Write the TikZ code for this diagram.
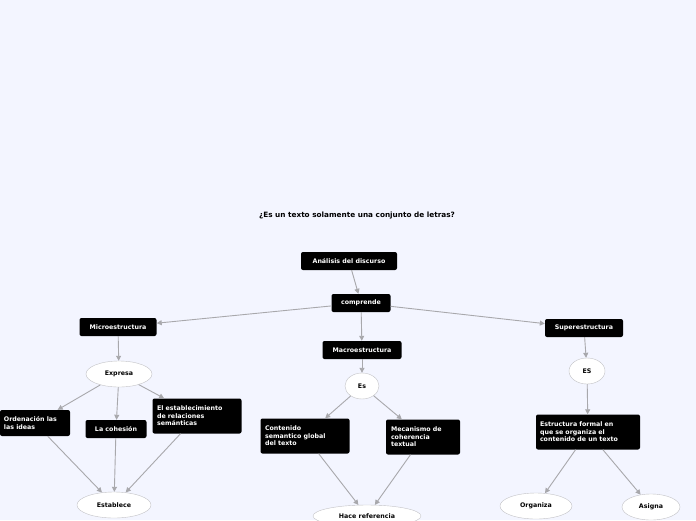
\documentclass[tikz,border=0pt]{standalone}
\usepackage{fontspec}
\setmainfont{DejaVu Sans}
\usetikzlibrary{shapes.geometric,arrows.meta}
\definecolor{bg}{HTML}{F3F5FF}
\definecolor{ln}{HTML}{A8A8AC}
\tikzset{
 bx/.style={fill=black,text=white,rounded corners=2pt,font=\bfseries\fontsize{6.3}{7.5}\selectfont,align=left,inner sep=0pt,minimum height=18pt},
 el/.style={ellipse,draw=ln!70,fill=white,font=\bfseries\fontsize{6.3}{7.5}\selectfont,inner sep=0pt,minimum height=26pt},
 ar/.style={draw=ln,line width=0.9pt,-{Triangle[length=5pt,width=5pt]}}
}
\begin{document}
\begin{tikzpicture}[x=1pt,y=-1pt]
\fill[bg] (0,0) rectangle (696,520);
\useasboundingbox (0,0) rectangle (696,520);
\node[font=\bfseries\fontsize{7.3}{9}\selectfont] (t) at (357,216) {¿Es un texto solamente una conjunto de letras?};
\node[bx,minimum width=96pt] (a) at (349,261) {Análisis del discurso};
\node[bx,minimum width=59pt] (c) at (361,303) {comprende};
\node[bx,minimum width=77pt] (mi) at (118,327) {Microestructura};
\node[bx,minimum width=79pt] (ma) at (362,350) {Macroestructura};
\node[bx,minimum width=78pt] (su) at (584,328) {Superestructura};
\node[el,minimum width=66pt] (ex) at (119,374) {Expresa};
\node[el,minimum width=34pt] (es) at (362,386) {Es};
\node[el,minimum width=36pt] (ES) at (587,371) {ES};
\node[bx,minimum width=70pt,minimum height=26pt,text width=62pt] (o) at (35,423) {Ordenación las\\las ideas};
\node[bx,minimum width=61pt] (lc) at (116,429) {La cohesión};
\node[bx,minimum width=89pt,minimum height=35pt,text width=80pt] (ee) at (197,416) {El establecimiento\\de relaciones\\semánticas};
\node[bx,minimum width=89pt,minimum height=35pt,text width=80pt] (co) at (305,436) {Contenido\\semantico global\\del texto};
\node[bx,minimum width=74pt,minimum height=35pt,text width=64pt] (me) at (423,437) {Mecanismo de\\coherencia\\textual};
\node[bx,minimum width=104pt,minimum height=35pt,text width=96pt] (ef) at (588,432) {Estructura formal en\\que se organiza el\\contenido de un texto};
\node[el,minimum width=74pt] (est) at (114,505) {Establece};
\node[el,minimum width=108pt,minimum height=22pt] (hr) at (367,516) {Hace referencia};
\node[el,minimum width=72pt] (org) at (536,506) {Organiza};
\node[el,minimum width=58pt] (asi) at (651,507) {Asigna};
\draw[ar] (a) -- (c);
\draw[ar] (c) -- (mi);
\draw[ar] (c) -- (ma);
\draw[ar] (c) -- (su);
\draw[ar] (mi) -- (ex);
\draw[ar] (ex) -- (o);
\draw[ar] (ex) -- (lc);
\draw[ar] (ex) -- (ee);
\draw[ar] (o) -- (est);
\draw[ar] (lc) -- (est);
\draw[ar] (ee) -- (est);
\draw[ar] (ma) -- (es);
\draw[ar] (es) -- (co);
\draw[ar] (es) -- (me);
\draw[ar] (co) -- (hr);
\draw[ar] (me) -- (hr);
\draw[ar] (su) -- (ES);
\draw[ar] (ES) -- (ef);
\draw[ar] (ef) -- (org);
\draw[ar] (ef) -- (asi);
\end{tikzpicture}
\end{document}
